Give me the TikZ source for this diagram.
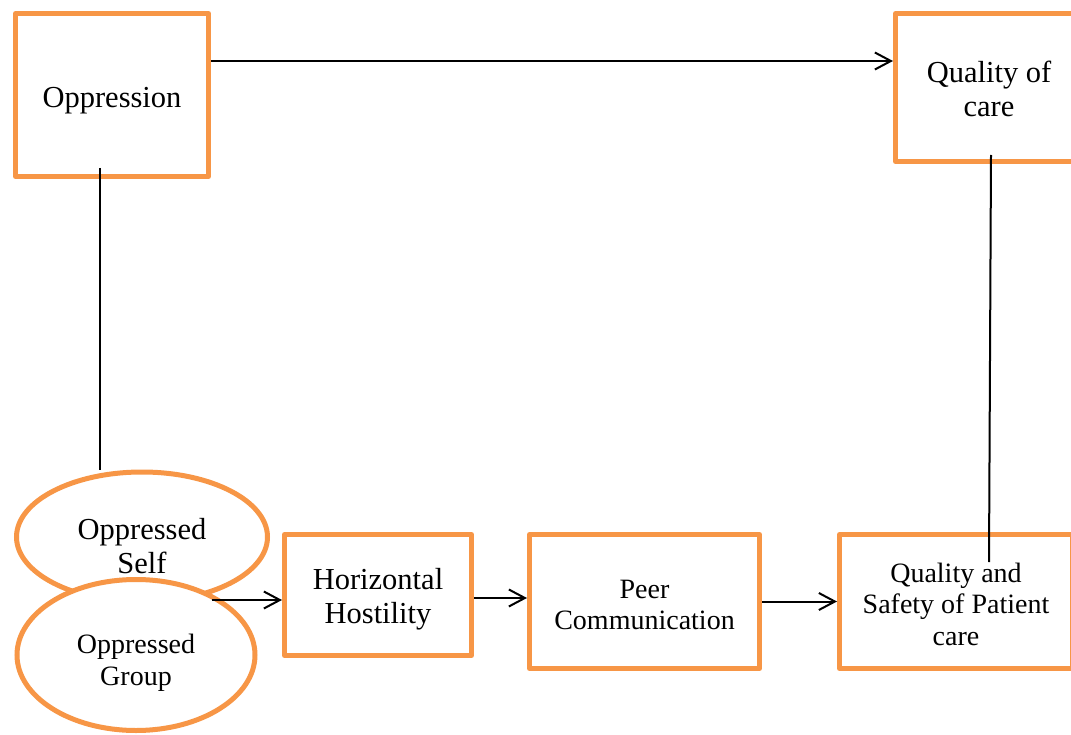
\documentclass[tikz,border=0pt]{standalone}
\usepackage{fontspec}
\setmainfont{Liberation Serif}
\usetikzlibrary{shapes.geometric, positioning, arrows.meta}
\definecolor{boxorange}{HTML}{F79646}
\newcommand{\lgtxt}{\fontsize{30.5}{34}\selectfont}
\newcommand{\smtxt}{\fontsize{28}{31.5}\selectfont}
\tikzstyle{box} = [draw=boxorange, line width=5pt, line join=round, fill=white, inner sep=0pt]
\tikzstyle{oval} = [ellipse, draw=boxorange, line width=5pt, fill=white, inner sep=0pt]
\tikzstyle{conn} = [line width=2pt, -{Straight Barb[length=16pt,width=17pt]}]
\tikzstyle{link} = [line width=2pt]

\begin{document}
\begin{tikzpicture}[x=1pt, y=-1pt]
        \useasboundingbox (0,0) rectangle (1071,735);
        \clip (0,0) rectangle (1071,735);
        % top row
        \node[box, minimum width=193pt, minimum height=163pt,
              label={[font=\lgtxt, align=center, yshift=-6pt]center:Oppression}] (opp) at (112,95) {};
        \node[box, minimum width=187pt, minimum height=148pt,
              label={[font=\lgtxt, align=center, yshift=-1pt]center:Quality of\\care}] (qoc) at (989,87.5) {};
        % bottom row
        \node[oval, minimum width=251pt, minimum height=130pt,
              label={[font=\lgtxt, align=center, yshift=-9pt]center:Oppressed\\Self}] (self) at (142,537) {};
        \node[oval, minimum width=238pt, minimum height=151pt,
              label={[font=\smtxt, align=center, yshift=-8pt]center:Oppressed\\Group}] (grp) at (136,655) {};
        \node[box, minimum width=187pt, minimum height=121pt,
              label={[font=\lgtxt, align=center, yshift=-4pt]center:Horizontal\\Hostility}] (hh) at (378,595) {};
        \node[box, minimum width=230pt, minimum height=134pt,
              label={[font=\smtxt, align=center, yshift=-3.5pt]center:Peer\\Communication}] (peer) at (644.5,601.5) {};
        \node[box, minimum width=233pt, minimum height=134pt,
              label={[font=\smtxt, align=center, yshift=-2.5pt]center:Quality and\\Safety of Patient\\care}] (qspc) at (956,601.5) {};
        % connectors
        \draw[conn] ([yshift=34pt]opp.east) -- ([yshift=26.5pt]qoc.west);
        \coordinate (a) at ([xshift=-12pt, yshift=11pt]opp.south);
        \draw[link] (a) -- (a |- self.north);
        \coordinate (b) at ([xshift=76pt, yshift=55pt]grp.center);
        \draw[conn] (b) -- (b -| hh.west);
        \draw[conn] ([yshift=-3pt]hh.east) -- ([yshift=-3pt]hh.east -| peer.west);
        \draw[conn] (peer.east) -- (qspc.west);
        \draw[link] ([xshift=2pt, yshift=9pt]qoc.south) -- ([xshift=33pt, yshift=-30pt]qspc.north);
\end{tikzpicture}
\end{document}
